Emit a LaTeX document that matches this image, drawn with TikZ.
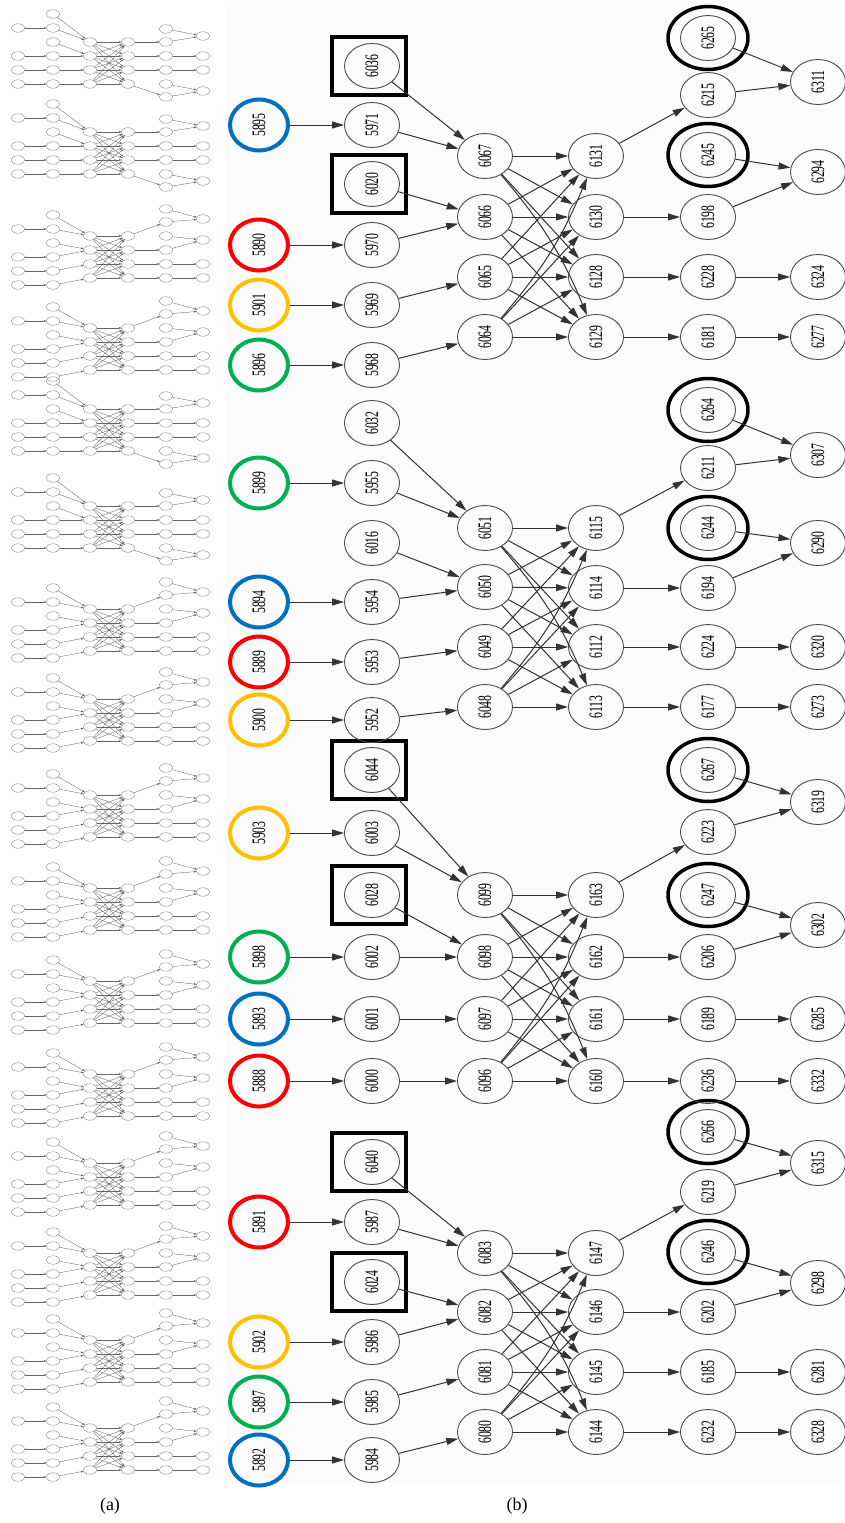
\documentclass[tikz,border=0pt]{standalone}
\usepackage{fontspec}
\setmainfont{Liberation Serif}
\newfontfamily\lblfont[FakeStretch=0.62]{Liberation Serif}
\usetikzlibrary{arrows.meta,shapes.geometric}
\definecolor{cblue}{RGB}{0,112,192}
\definecolor{cred}{RGB}{255,0,0}
\definecolor{cyell}{RGB}{255,192,0}
\definecolor{cgreen}{RGB}{0,176,80}
\newcommand\tn[1]{\rotatebox{90}{#1}}

\begin{document}
\begin{tikzpicture}[x=1pt,y=-1pt,
    vtx/.style={ellipse, draw=black!70, line width=0.9pt, minimum width=55pt, minimum height=45pt, inner sep=0pt, font=\lblfont\fontsize{19}{19}\selectfont},
    src/.style={vtx, line width=4pt, minimum width=58pt, minimum height=51pt},
    boxed/.style={draw, line width=3.2pt, minimum width=74pt, minimum height=58pt, inner sep=0pt},
    ring/.style={ellipse, draw, line width=3.5pt, minimum width=80pt, minimum height=63pt, inner sep=0pt},
    arr/.style={draw=black!80, line width=1pt, -{Triangle[length=12pt,width=7pt]}},
    mini/.style={ellipse, draw=black!55, line width=0.35pt, minimum width=13pt, minimum height=8.5pt, inner sep=0pt},
    tarr/.style={draw=black!60, line width=0.35pt, -{Triangle[length=2.5pt,width=1.8pt]}}]
        \useasboundingbox (0,0) rectangle (845,1523);
        \fill[black!1.5] (226,7) rectangle (845,1483);

        % (a)
        \foreach \r/\v [count=\k] in {42/B,132/B,236/A,328/A,409/B,506/B,609/A,699/A,795/A,888/A,981/A,1074/A,1163/A,1253/A,1340/A,1428/A} {
            \if A\v
                \def\sh{0}\def\ulist{-27,-14,0,14,28,42}\def\wlist{-17,4,28,42}\def\nmap{2,4,5,6}\def\umap{1,1,2,2,3,4}
            \else
                \def\sh{-7}\def\ulist{-13,0,14,28,42,55}\def\wlist{-6,14,28,49}\def\nmap{2,3,4,6}\def\umap{1,1,2,3,4,4}
            \fi
            \foreach \dy [count=\i] in {-7,21,35,49} {
                \node (a\k-p\i) at (18,{\r+(\sh)+(\dy)}) [mini] {};
                \node (a\k-q\i) at (53,{\r+(\sh)+(\dy)}) [mini] {};
                \node (a\k-m\i) at (90,{\r+14*\i-14}) [mini] {};
                \node (a\k-n\i) at (128,{\r+14*\i-14}) [mini] {};
                \draw[tarr] (a\k-p\i) -- (a\k-q\i);
                \draw[tarr] (a\k-q\i) -- (a\k-m\i);
            }
            \node (a\k-t) at (53,{\r+(\sh)-21}) [mini] {};
            \node (a\k-e) at (53,{\r+(\sh)+7}) [mini] {};
            \draw[tarr] (a\k-t) -- (a\k-m1);
            \draw[tarr] (a\k-e) -- (a\k-m2);
            \foreach \i in {1,...,4} \foreach \j in {1,...,4} \draw[tarr] (a\k-m\i) -- (a\k-n\j);
            \foreach \dy [count=\i] in \ulist \node (a\k-u\i) at (166,{\r+(\dy)}) [mini] {};
            \foreach \dy [count=\i] in \wlist \node (a\k-w\i) at (203,{\r+(\dy)}) [mini] {};
            \foreach \j [count=\i] in \nmap \draw[tarr] (a\k-n\i) -- (a\k-u\j);
            \foreach \j [count=\i] in \umap \draw[tarr] (a\k-u\i) -- (a\k-w\j);
        }

        % (b)
        \foreach \n/\y/\c in {5895/125/cblue, 5890/245/cred, 5901/305/cyell, 5896/365/cgreen, 5899/483/cgreen, 5894/602/cblue, 5889/662/cred, 5900/720/cyell, 5903/833/cyell, 5898/957/cgreen, 5893/1019/cblue, 5888/1081/cred, 5891/1222/cred, 5902/1342/cyell, 5897/1402/cgreen, 5892/1460/cblue}
            \node (n\n) at (259,\y) [src, draw=\c] {\tn{\n}};

        \foreach \n/\y in {6036/66, 6020/184, 6044/770, 6028/895, 6040/1162, 6024/1282}
            \node (f\n) at (369,\y) [boxed] {};
        \foreach \n/\y in {6036/66, 5971/125, 6020/184, 5970/245, 5969/305, 5968/365, 6032/423, 5955/483, 6016/543, 5954/602, 5953/662, 5952/720, 6044/770, 6003/833, 6028/895, 6002/957, 6001/1019, 6000/1081, 6040/1162, 5987/1222, 6024/1282, 5986/1342, 5985/1402, 5984/1460}
            \node (n\n) at (372,\y) [vtx] {\tn{\n}};

        \foreach \n/\y in {6067/156, 6066/217, 6065/277, 6064/337, 6051/528, 6050/587, 6049/647, 6048/707, 6099/895, 6098/957, 6097/1019, 6096/1081, 6083/1253, 6082/1312, 6081/1372, 6080/1432}
            \node (n\n) at (485,\y) [vtx] {\tn{\n}};
        \foreach \n/\y in {6131/156, 6130/217, 6128/277, 6129/337, 6115/528, 6114/588, 6112/647, 6113/707, 6163/895, 6162/957, 6161/1019, 6160/1081, 6147/1253, 6146/1312, 6145/1372, 6144/1432}
            \node (n\n) at (596,\y) [vtx] {\tn{\n}};

        \foreach \n/\y in {6265/38, 6245/155, 6264/410, 6244/528, 6267/770, 6247/895, 6266/1132, 6246/1252}
            \node (r\n) at (708,\y) [ring] {};
        \foreach \n/\y in {6265/38, 6215/95, 6245/155, 6198/217, 6228/277, 6181/337, 6264/410, 6211/468, 6244/528, 6194/588, 6224/647, 6177/707, 6267/770, 6223/832, 6247/895, 6206/957, 6189/1019, 6236/1081, 6266/1132, 6219/1192, 6246/1252, 6202/1312, 6185/1372, 6232/1432}
            \node (n\n) at (708,\y) [vtx] {\tn{\n}};
        \foreach \n/\y in {6311/82, 6294/172, 6324/277, 6277/337, 6307/455, 6290/543, 6320/647, 6273/707, 6319/802, 6302/925, 6285/1019, 6332/1081, 6315/1163, 6298/1283, 6281/1372, 6328/1432}
            \node (n\n) at (818,\y) [vtx] {\tn{\n}};

        \foreach \s/\t in {5895/5971, 5971/6067, 6036/6067, 5890/5970, 5970/6066, 6020/6066, 5901/5969, 5969/6065, 5896/5968, 5968/6064,
                5899/5955, 5955/6051, 6032/6051, 6016/6050, 5894/5954, 5954/6050, 5889/5953, 5953/6049, 5900/5952, 5952/6048,
                5903/6003, 6003/6099, 6044/6099, 6028/6098, 5898/6002, 6002/6098, 5893/6001, 6001/6097, 5888/6000, 6000/6096,
                5891/5987, 5987/6083, 6040/6083, 6024/6082, 5902/5986, 5986/6082, 5897/5985, 5985/6081, 5892/5984, 5984/6080,
                6131/6215, 6215/6311, 6265/6311, 6130/6198, 6198/6294, 6245/6294, 6128/6228, 6228/6324, 6129/6181, 6181/6277,
                6115/6211, 6211/6307, 6264/6307, 6114/6194, 6194/6290, 6244/6290, 6112/6224, 6224/6320, 6113/6177, 6177/6273,
                6163/6223, 6223/6319, 6267/6319, 6162/6206, 6206/6302, 6247/6302, 6161/6189, 6189/6285, 6160/6236, 6236/6332,
                6147/6219, 6219/6315, 6266/6315, 6146/6202, 6202/6298, 6246/6298, 6145/6185, 6185/6281, 6144/6232, 6232/6328}
            \draw[arr] (n\s) -- (n\t);

        \foreach \a/\b/\c/\d/\e/\f/\g/\h in {6067/6066/6065/6064/6131/6130/6128/6129, 6051/6050/6049/6048/6115/6114/6112/6113, 6099/6098/6097/6096/6163/6162/6161/6160, 6083/6082/6081/6080/6147/6146/6145/6144} {
            \foreach \s in {\b,\c} \foreach \t in {\e,\f,\g,\h} \draw[arr] (n\s) -- (n\t);
            \foreach \t in {\e,\f,\g} \draw[arr] (n\a) -- (n\t);
            \foreach \t in {\f,\g,\h} \draw[arr] (n\d) -- (n\t);
            \draw[arr] (n\a) to[bend left=9] (n\h);
            \draw[arr] (n\d) to[bend right=9] (n\e);
        }

        \node (capa) at (110,1506) [font=\fontsize{18}{20}\selectfont] {(a)};
        \node (capb) at (517,1506) [font=\fontsize{18}{20}\selectfont] {(b)};
\end{tikzpicture}
\end{document}
